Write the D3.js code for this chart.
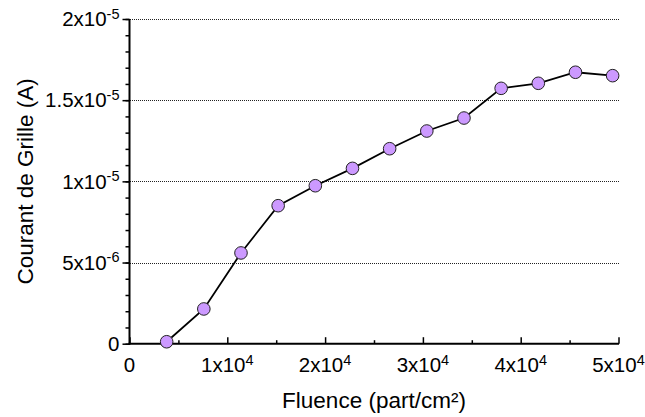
<!DOCTYPE html>
<html>
<head>
<meta charset="utf-8">
<script src="https://cdn.jsdelivr.net/npm/d3@7/dist/d3.min.js"></script>
<style>
  html, body { margin: 0; padding: 0; background: #fff; }
  svg { display: block; font-family: "Liberation Sans", Arial, sans-serif; }
</style>
</head>
<body>
<svg id="chart" width="645" height="417"></svg>
<script>
// ---- data ----
const fluence = [3800, 7600, 11400, 15200, 19000, 22800, 26600, 30400, 34200, 38000, 41800, 45600, 49400];
const courant = [1.2e-7, 2.14e-6, 5.59e-6, 8.5e-6, 9.73e-6, 1.08e-5, 1.201e-5, 1.31e-5, 1.39e-5, 1.573e-5, 1.604e-5, 1.672e-5, 1.651e-5];
const xTicks = [0, 1e4, 2e4, 3e4, 4e4, 5e4];
const xTickMant = ["0", "1x10", "2x10", "3x10", "4x10", "5x10"];
const xTickExp = ["", "4", "4", "4", "4", "4"];
const yTicks = [0, 5e-6, 1e-5, 1.5e-5, 2e-5];
const yTickMant = ["0", "5x10", "1x10", "1.5x10", "2x10"];
const yTickExp = ["", "-6", "-5", "-5", "-5"];
const xLabel = "Fluence (part/cm²)";
const yLabel = "Courant de Grille (A)";

// ---- layout ----
const svg = d3.select("#chart");
const x = d3.scaleLinear().domain([0, 5e4]).range([129.5, 618.5]);
const y = d3.scaleLinear().domain([0, 2e-5]).range([343.7, 19]);

// gridlines
svg.append("g").selectAll("line")
  .data(yTicks.filter(d => d > 0))
  .join("line")
  .attr("x1", x(0)).attr("x2", x(5e4))
  .attr("y1", d => Math.round(y(d)) + 0.5).attr("y2", d => Math.round(y(d)) + 0.5)
  .attr("stroke", "#222").attr("stroke-width", 1)
  .attr("shape-rendering", "crispEdges")
  .attr("stroke-dasharray", "1,1");

// y axis minor + major ticks
const yMinor = d3.range(0, 2.0001e-5, 1e-6);
const gy = svg.append("g").attr("transform", `translate(${x(0)},0)`);
gy.call(d3.axisLeft(y).tickValues(yMinor).tickSize(4).tickFormat(""));
gy.selectAll("line").attr("stroke", "#000").attr("stroke-width", 1.5);
gy.select(".domain").remove();
const gyMaj = svg.append("g").attr("transform", `translate(${x(0)},0)`);
gyMaj.call(d3.axisLeft(y).tickValues(yTicks).tickSize(7).tickFormat(""));
gyMaj.selectAll("line").attr("stroke", "#000").attr("stroke-width", 1.5);
gyMaj.select(".domain").remove();
svg.append("line")
  .attr("x1", x(0)).attr("x2", x(0)).attr("y1", y(0) + 1).attr("y2", y(2e-5))
  .attr("stroke", "#000").attr("stroke-width", 2);

// y tick labels
const yl = svg.append("g").selectAll("text").data(yTicks).join("text")
  .attr("x", x(0) - 10)
  .attr("y", d => y(d) + 7.3)
  .attr("text-anchor", "end")
  .attr("font-size", 20.5)
  .attr("fill", "#000");
yl.append("tspan").text((d, i) => yTickMant[i]);
yl.append("tspan").attr("font-size", 14.5).attr("dy", -7.5).text((d, i) => yTickExp[i]);

// x axis ticks (inside)
const xMinor = d3.range(5e3, 5e4, 1e4);
const gx = svg.append("g").attr("transform", `translate(0,${y(0)})`);
gx.call(d3.axisTop(x).tickValues(xMinor).tickSize(3.5).tickFormat(""));
gx.selectAll("line").attr("stroke", "#000").attr("stroke-width", 1.5);
gx.select(".domain").remove();
const gxMaj = svg.append("g").attr("transform", `translate(0,${y(0)})`);
gxMaj.call(d3.axisTop(x).tickValues(xTicks).tickSize(6.5).tickFormat(""));
gxMaj.selectAll("line").attr("stroke", "#000").attr("stroke-width", 1.5);
gxMaj.select(".domain").remove();
svg.append("line")
  .attr("x1", x(0) - 1).attr("x2", x(5e4) + 0.5).attr("y1", y(0)).attr("y2", y(0))
  .attr("stroke", "#000").attr("stroke-width", 2);

// x tick labels
const xl = svg.append("g").selectAll("text").data(xTicks).join("text")
  .attr("x", d => x(d))
  .attr("y", 372)
  .attr("text-anchor", "middle")
  .attr("font-size", 20.5)
  .attr("fill", "#000");
xl.append("tspan").text((d, i) => xTickMant[i]);
xl.append("tspan").attr("font-size", 14.5).attr("dy", -7.5).text((d, i) => xTickExp[i]);

// axis titles
svg.append("text")
  .attr("x", (x(0) + x(5e4)) / 2).attr("y", 408)
  .attr("text-anchor", "middle").attr("font-size", 22.5).attr("fill", "#000")
  .text(xLabel);
svg.append("text")
  .attr("transform", `translate(33,${(y(0) + y(2e-5)) / 2}) rotate(-90)`)
  .attr("text-anchor", "middle").attr("font-size", 22.5).attr("fill", "#000")
  .text(yLabel);

// data line
const pts = fluence.map((f, i) => [f, courant[i]]);
svg.append("path")
  .datum(pts)
  .attr("fill", "none").attr("stroke", "#000").attr("stroke-width", 1.8)
  .attr("d", d3.line().x(d => x(d[0])).y(d => y(d[1])));

// markers
svg.append("g").selectAll("circle").data(pts).join("circle")
  .attr("cx", d => x(d[0])).attr("cy", d => y(d[1]))
  .attr("r", 6.3)
  .attr("fill", "#cc99ff").attr("stroke", "#222").attr("stroke-width", 1);
</script>
</body>
</html>
